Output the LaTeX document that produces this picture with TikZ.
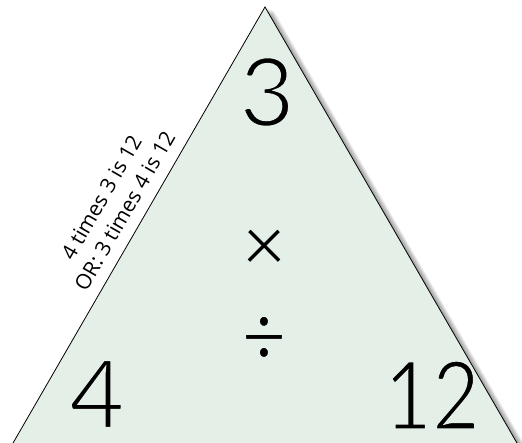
\documentclass[tikz,border=0pt]{standalone}
\usepackage{fontspec}
\setmainfont{Open Sans}
\newfontfamily\bigfont{Lato}
\definecolor{trifill}{RGB}{228,239,231}
\newcommand{\thinglyph}[2]{\special{pdf:literal direct 2 Tr #2 w 0.894 0.937 0.906 RG}#1\special{pdf:literal direct 0 Tr}}
\begin{document}
\begin{tikzpicture}[x=1pt,y=-1pt,
  big/.style={inner sep=0pt, font=\bigfont\fontsize{96}{96}\selectfont},
  sym/.style={inner sep=0pt, font=\bigfont\fontsize{78}{78}\selectfont},
  edgelabel/.style={inner sep=0pt, align=center, rotate=60, font=\fontsize{21}{27}\selectfont}]
\useasboundingbox (0,0) rectangle (522,443);
\clip (0,0) rectangle (522,443);
\coordinate (apex) at (265,7);
\coordinate (bl) at (9,450);
\coordinate (br) at (521,450);
% soft shadow
\foreach \i in {1,...,9}{
  \fill[black, opacity=0.05] ([xshift=\i*1.0pt, yshift=-\i*0.45pt]apex) -- ([xshift=\i*1.0pt, yshift=-\i*0.45pt]bl) -- ([xshift=\i*1.0pt, yshift=-\i*0.45pt]br) -- cycle;
}
\filldraw[fill=trifill, draw=black, line width=0.8pt] (apex) -- (bl) -- (br) -- cycle;
\node[big] (top) at (267,92) {\thinglyph{3}{2.8}};
\node[big] (left) at (97,394) {\thinglyph{4}{2.8}};
\node[big, xscale=0.86] (right) at (432,395) {\thinglyph{12}{2.8}};
\node[sym] (times) at (264,250) {\thinglyph{×}{1.6}};
\node[sym, yscale=1.12] (div) at (264,341) {\thinglyph{÷}{1.6}};
\node[edgelabel] (note) at (113,204) {4 times 3 is 12\\OR: 3 times 4 is 12};
\end{tikzpicture}
\end{document}
